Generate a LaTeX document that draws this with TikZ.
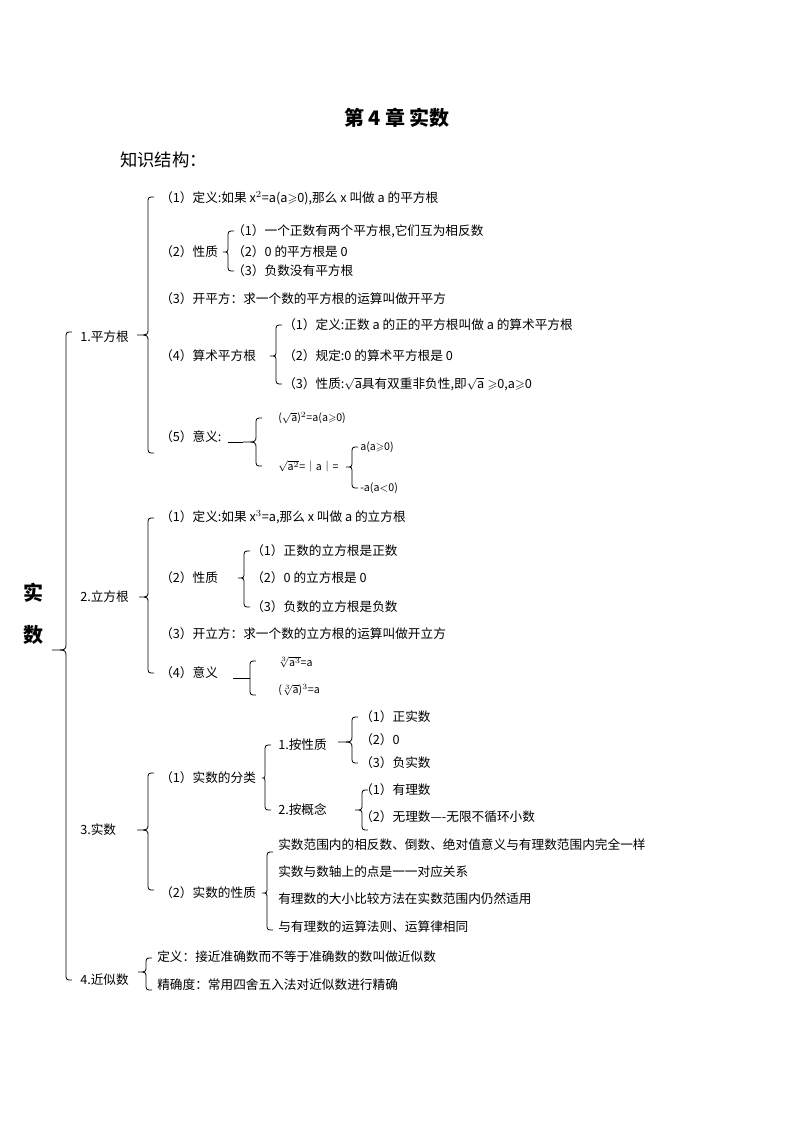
\documentclass[tikz,border=0pt]{standalone}
\usepackage{amssymb}
\usepackage{fontspec}
\setmainfont{Noto Sans CJK SC}
\begin{document}
\begin{tikzpicture}[x=0.75pt,y=-0.75pt,
  t/.style={anchor=west,inner sep=0pt,font=\fontsize{9.5pt}{11pt}\selectfont},
  br/.style={line width=0.6pt}]
\useasboundingbox (0,0) rectangle (794,1123);
\newcommand\brc[5]{% x, y1, ym, y2, tipx
 \draw[br] (#1+6,#2) .. controls (#1,#2) .. (#1,#2+7) -- (#1,#3-6) .. controls (#1,#3) .. (#5,#3) .. controls (#1,#3) .. (#1,#3+6) -- (#1,#4-7) .. controls (#1,#4) .. (#1+6,#4);}
\node[font=\fontsize{15pt}{17pt}\selectfont\bfseries] (title) at (397,118) {第 4 章\ 实数};
\node[t,font=\fontsize{13pt}{15pt}\selectfont] (ks) at (120,160) {知识结构：};
\node[font=\fontsize{15pt}{17pt}\selectfont\bfseries] (s1) at (33,593) {实};
\node[font=\fontsize{15pt}{17pt}\selectfont\bfseries] (s2) at (33,635) {数};
\brc{66}{332}{650}{980}{52}
% 1
\node[t] (a) at (80,337) {1.平方根};
\brc{148}{197}{335}{453}{137}
\node[t] (a1) at (160,198) {（1）定义:如果 x$^2$=a(a$\geqslant$0),那么 x 叫做 a 的平方根};
\node[t] (a2) at (160,252) {（2）性质};
\brc{228}{231}{252}{271}{223}
\node[t] (a21) at (232,231) {（1）一个正数有两个平方根,它们互为相反数};
\node[t] (a22) at (232,252) {（2）0 的平方根是 0};
\node[t] (a23) at (232,271) {（3）负数没有平方根};
\node[t] (a3) at (160,299) {（3）开平方：求一个数的平方根的运算叫做开平方};
\node[t] (a4) at (160,356) {（4）算术平方根};
\brc{276}{325}{356}{384}{270}
\node[t] (a41) at (283,325) {（1）定义:正数 a 的正的平方根叫做 a 的算术平方根};
\node[t] (a42) at (283,356) {（2）规定:0 的算术平方根是 0};
\node[t] (a43) at (283,384) {（3）性质:$\sqrt{\mathrm{a}}$具有双重非负性,即$\sqrt{\mathrm{a}}\geqslant$0,a$\geqslant$0};
\node[t] (a5) at (160,437) {（5）意义:};
\draw[br] (228,442) -- (243,442);
\brc{256}{418}{442}{466}{243}
\node[t,font=\fontsize{8pt}{10pt}\selectfont] (a51) at (278,418) {($\sqrt{\mathrm{a}}$)$^2$=a(a$\geqslant$0)};
\node[t,font=\fontsize{8pt}{10pt}\selectfont] (a52) at (278,466) {$\sqrt{\mathrm{a}^2}$=｜a｜=};
\brc{352}{447}{467}{488}{346}
\node[t,font=\fontsize{8pt}{10pt}\selectfont] (a53) at (360,447) {a(a$\geqslant$0)};
\node[t,font=\fontsize{8pt}{10pt}\selectfont] (a54) at (360,488) {-a(a$<$0)};
% 2
\node[t] (b) at (80,597) {2.立方根};
\brc{148}{518}{597}{673}{139}
\node[t] (b1) at (160,517) {（1）定义:如果 x$^3$=a,那么 x 叫做 a 的立方根};
\node[t] (b2) at (160,578) {（2）性质};
\brc{244}{551}{578}{607}{238}
\node[t] (b21) at (251,551) {（1）正数的立方根是正数};
\node[t] (b22) at (251,578) {（2）0 的立方根是 0};
\node[t] (b23) at (251,607) {（3）负数的立方根是负数};
\node[t] (b3) at (160,634) {（3）开立方：求一个数的立方根的运算叫做开立方};
\node[t] (b4) at (160,673) {（4）意义};
\draw[br] (233,678) -- (250,678);
\brc{250}{661}{678}{695}{250}
\node[t,font=\fontsize{8pt}{10pt}\selectfont] (b41) at (278,662) {$\sqrt[3]{\mathrm{a}^3}$=a};
\node[t,font=\fontsize{8pt}{10pt}\selectfont] (b42) at (278,690) {($\sqrt[3]{\mathrm{a}}$)$^3$=a};
% 3
\node[t] (c) at (80,830) {3.实数};
\brc{148}{773}{830}{890}{137}
\node[t] (c1) at (160,778) {（1）实数的分类};
\brc{265}{745}{778}{810}{262}
\node[t] (c11) at (278,745) {1.按性质};
\brc{352}{717}{742}{763}{338}
\node[t] (c111) at (360,717) {（1）正实数};
\node[t] (c112) at (360,740) {（2）0};
\node[t] (c113) at (360,763) {（3）负实数};
\node[t] (c12) at (278,810) {2.按概念};
\brc{362}{790}{810}{830}{355}
\node[t] (c121) at (360,790) {（1）有理数};
\node[t] (c122) at (360,817) {（2）无理数----无限不循环小数};
\node[t] (c2) at (160,893) {（2）实数的性质};
\brc{267}{852}{893}{930}{262}
\node[t] (c21) at (278,845) {实数范围内的相反数、倒数、绝对值意义与有理数范围内完全一样};
\node[t] (c22) at (278,872) {实数与数轴上的点是一一对应关系};
\node[t] (c23) at (278,899) {有理数的大小比较方法在实数范围内仍然适用};
\node[t] (c24) at (278,927) {与有理数的运算法则、运算律相同};
% 4
\node[t] (d) at (80,980) {4.近似数};
\brc{146}{958}{972}{990}{138}
\node[t] (d1) at (157,957) {定义：接近准确数而不等于准确数的数叫做近似数};
\node[t] (d2) at (157,985) {精确度：常用四舍五入法对近似数进行精确};
\end{tikzpicture}
\end{document}
